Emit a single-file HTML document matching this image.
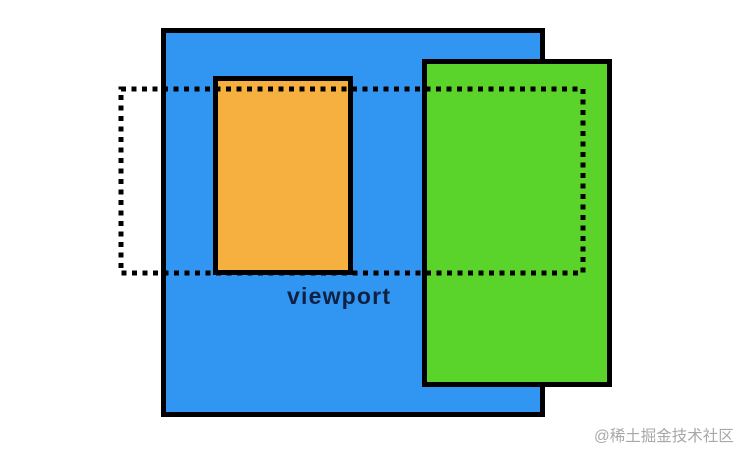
<!DOCTYPE html>
<html><head><meta charset="utf-8"><style>
html,body{margin:0;padding:0;background:#fff;}
body{width:754px;height:459px;position:relative;overflow:hidden;}
.b{position:absolute;box-sizing:border-box;border:5px solid #000;}
</style></head><body>
<div class="b" style="left:161px;top:28px;width:384px;height:389px;background:#3195f2;"></div>
<div class="b" style="left:213px;top:76px;width:140px;height:199px;background:#f5b040;"></div>
<div class="b" style="left:422px;top:59px;width:190px;height:328px;background:#5ad32a;"></div>
<svg width="754" height="459" style="position:absolute;left:0;top:0">
<rect x="121" y="89" width="462" height="184" fill="none" stroke="#000" stroke-width="5" stroke-dasharray="5 5.5"/>
</svg>
<div style="position:absolute;left:287px;top:283px;font-family:'Liberation Sans',sans-serif;font-weight:bold;font-size:23px;letter-spacing:1.2px;color:#102040;">viewport</div>
<div style="position:absolute;left:594px;top:424px;font-family:'Liberation Sans','Noto Sans CJK SC',sans-serif;font-size:15.5px;color:#a8a8a8;">@稀土掘金技术社区</div>
</body></html>
